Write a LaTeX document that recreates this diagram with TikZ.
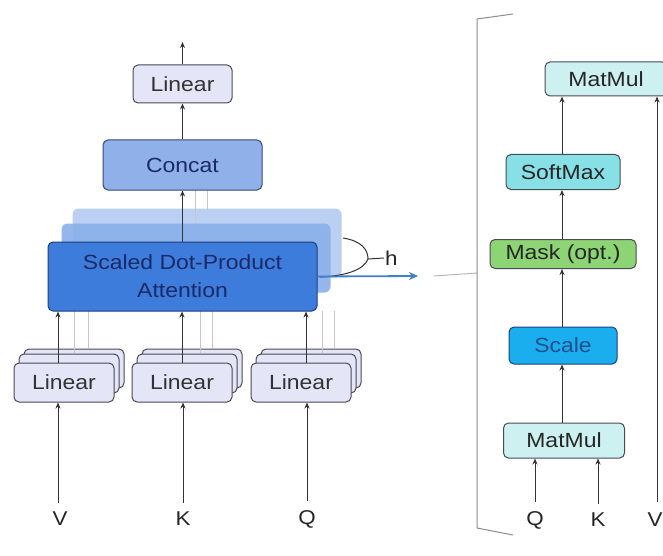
\documentclass[tikz,border=0pt]{standalone}
\usepackage{fontspec}
\setmainfont[FakeStretch=1.12]{Liberation Sans}
\usetikzlibrary{arrows.meta}
\definecolor{linfill}{HTML}{E4E6F7}
\definecolor{linedge}{HTML}{4A4A55}
\definecolor{catfill}{HTML}{8FB0E8}
\definecolor{catedge}{HTML}{34477A}
\definecolor{sdpafill}{HTML}{3D7CDA}
\definecolor{sdpaedge}{HTML}{1D3F80}
\definecolor{sdpatext}{HTML}{1A2A68}
\definecolor{backA}{HTML}{8AAFEA}
\definecolor{backB}{HTML}{BACFF2}
\definecolor{mmfill}{HTML}{CDF1F1}
\definecolor{smfill}{HTML}{86E0E6}
\definecolor{maskfill}{HTML}{8DD474}
\definecolor{scalefill}{HTML}{1BAEEE}
\definecolor{scaletext}{HTML}{1C4F8C}
\definecolor{arrowc}{HTML}{333333}
\definecolor{bluearr}{HTML}{3F7FCC}
\tikzset{
  blk/.style={rounded corners=5pt, line width=1pt, inner sep=0pt, align=center,
    font=\fontsize{20.5}{28}\selectfont},
  linbox/.style={blk, draw=linedge, fill=linfill, text=black!80, minimum width=100pt, minimum height=39pt},
  linback/.style={rounded corners=5pt, line width=1pt, draw=linedge, fill=linfill, minimum width=100pt, minimum height=39pt},
  catbox/.style={blk, draw=catedge, fill=catfill, text=sdpatext, minimum width=159pt, minimum height=50pt},
  sdpabox/.style={blk, draw=sdpaedge, fill=sdpafill, text=sdpatext, minimum width=269pt, minimum height=69pt},
  sdpaback/.style={rounded corners=6pt, fill=#1, draw=none, minimum width=269pt, minimum height=69pt},
  rbox/.style={blk, draw=linedge, text=black!85},
  arr/.style={-{Stealth[length=6pt,width=5pt]}, line width=1pt, draw=arrowc},
  faint/.style={line width=0.9pt, draw=black!22},
  lbl/.style={font=\fontsize{20}{22}\selectfont, text=black!85, inner sep=1pt}
}
\begin{document}
\begin{tikzpicture}[x=1pt,y=-1pt]
\useasboundingbox (0,0) rectangle (663,556);
\fill[white] (0,0) rectangle (663,556);

% ---- left: input labels
\node[lbl] (vin) at (60,519) {V};
\node[lbl] (kin) at (183,519) {K};
\node[lbl] (qin) at (307,519) {Q};

% ---- Linear stacks
\foreach \n/\cx in {lv/64,lk/182,lq/301}{
  \node[linback] (\n b2) at (\cx+10,368.5) {};
  \node[linback] (\n b1) at (\cx+5,373.5) {};
}
\node[linbox] (lv) at (64,382.5) {Linear};
\node[linbox] (lk) at (182,382.5) {Linear};
\node[linbox] (lq) at (301,382.5) {Linear};

% ---- faint parallel head lines
\foreach \x/\yy in {74/353,88/348,200/353,212/348,322/353,334/348}{
  \draw[faint] (\x,\yy) -- (\x,311);
}

% ---- SDPA stack
\node[sdpaback=backB] (sb2) at (207,243) {};
\node[sdpaback=backA, opacity=0.9] (sb1) at (196,258) {};
\draw[faint] (195,222) -- (195,190);
\draw[faint] (207,210) -- (207,190);
\node[sdpabox] (sdpa) at (182.5,276.5) {Scaled Dot-Product\\Attention};

% ---- Concat and Linear
\node[catbox] (cat) at (182.5,165) {Concat};
\node[linbox, minimum width=99pt, minimum height=38pt] (lin) at (182.5,84) {Linear};
\coordinate (out) at (182.5,42);

% ---- arrows left
\draw[arr] ([yshift=8pt]vin.north -| 58,0) -- (lv.south -| 58,0);
\draw[arr] ([yshift=8pt]kin.north) -- (kin.north |- lk.south);
\draw[arr] ([yshift=8pt]qin.north) -- (qin.north |- lq.south);
\draw[arr] (lv.north -| 58,0) -- (sdpa.south -| 58,0);
\draw[arr] (lk.north) -- (lk.north |- sdpa.south);
\draw[arr] (lq.north -| 306,0) -- (sdpa.south -| 306,0);
\draw[arr] (sdpa.north) -- (cat.south);
\draw[arr] (cat.north) -- (lin.south);
\draw[arr] (lin.north) -- (out);

% ---- h arc
\coordinate (arcA) at (343,238);
\coordinate (arcT) at (368,259);
\coordinate (arcB) at (320,277);
\draw[line width=1pt, draw=black!80] (arcA) .. controls (362,241) and (368,250) .. (arcT)
   .. controls (364,270) and (345,276) .. (arcB);
\node[lbl, anchor=west] (h) at (384,258) {h};
\draw[line width=1pt, draw=black!80] (arcT) -- (h.west);

% ---- blue arrow to bracket
\coordinate (barr) at (418,276);
\draw[-{Stealth[length=9pt,width=8pt]}, line width=1.8pt, draw=bluearr] (sdpa.east) -- (barr);
\coordinate (bjoin) at (477,273);
\draw[line width=0.9pt, draw=black!30] (434,276) -- (bjoin);

% ---- bracket
\coordinate (btr) at (513,14);
\coordinate (btl) at (477,19);
\coordinate (bbl) at (477,528);
\coordinate (bbr) at (513,535);
\draw[line width=1pt, draw=black!45] (btr) -- (btl) -- (bbl) -- (bbr);

% ---- right column
\node[rbox, fill=mmfill, minimum width=122pt, minimum height=34pt] (mm2) at (606,79) {MatMul};
\node[rbox, fill=smfill, minimum width=114pt, minimum height=35pt] (sm) at (563,172) {SoftMax};
\node[rbox, fill=maskfill, minimum width=146pt, minimum height=29pt] (mask) at (563,254) {Mask (opt.)};
\node[blk, draw=sdpaedge, fill=scalefill, text=scaletext, minimum width=108pt, minimum height=37pt] (scale) at (563,345.5) {Scale};
\node[rbox, fill=mmfill, minimum width=121pt, minimum height=35pt] (mm1) at (564,440.5) {MatMul};

\node[lbl] (qr) at (535,520) {Q};
\node[lbl] (kr) at (598,520) {K};
\node[lbl] (vr) at (655,520) {V};

\draw[arr] ([yshift=8pt]qr.north) -- (qr.north |- mm1.south);
\draw[arr] ([yshift=8pt]kr.north) -- (kr.north |- mm1.south);
\draw[arr] (mm1.north -| 562,0) -- (scale.south -| 562,0);
\draw[arr] (scale.north -| 562,0) -- (mask.south -| 562,0);
\draw[arr] (mask.north -| 562,0) -- (sm.south -| 562,0);
\draw[arr] (sm.north -| 562,0) -- (mm2.south -| 562,0);
\draw[arr] ([yshift=10pt]vr.north -| 657,0) -- (mm2.south -| 657,0);
\end{tikzpicture}
\end{document}
